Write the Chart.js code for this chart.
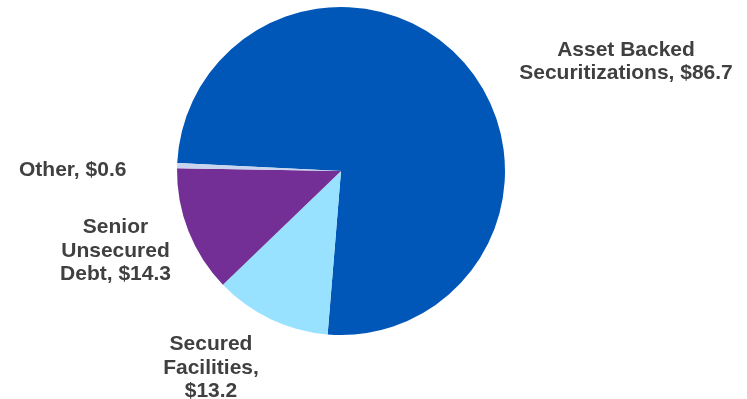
<!DOCTYPE html>
<html>
<head>
<meta charset="utf-8">
<script src="https://cdn.jsdelivr.net/npm/chart.js@4"></script>
<style>
  html, body { margin: 0; padding: 0; background: #fff; }
  #wrap { width: 747px; height: 399px; position: relative; }
</style>
</head>
<body>
<div id="wrap"><canvas id="myChart"></canvas></div>
<script>
let categories = ["Asset Backed Securitizations", "Secured Facilities", "Senior Unsecured Debt", "Other"];
let values     = [86.7, 13.2, 14.3, 0.6];
let colours    = ["#0057b8", "#99e2ff", "#732f96", "#c9d5ee"];

// label lines and where they sit (text only)
let labelLines = [
    ["Asset Backed", "Securitizations, $86.7"],
    ["Secured", "Facilities,", "$13.2"],
    ["Senior", "Unsecured", "Debt, $14.3"],
    ["Other, $0.6"]
];
let labelPos = [
    { x: 626, y: 55.5, align: "center" },
    { x: 211, y: 350, align: "center" },
    { x: 115.5, y: 233, align: "center" },
    { x: 19,  y: 176, align: "left" }
];

const labelPlugin = {
    id: "sliceLabels",
    afterDraw(chart) {
        const ctx = chart.ctx;
        ctx.save();
        ctx.font = "bold 21px 'Liberation Sans', Arial, sans-serif";
        ctx.fillStyle = "#404040";
        ctx.textBaseline = "alphabetic";
        labelLines.forEach((lines, i) => {
            const p = labelPos[i];
            ctx.textAlign = p.align;
            lines.forEach((t, j) => ctx.fillText(t, p.x, p.y + j * 23.5));
        });
        ctx.restore();
    }
};

const ctx = document.getElementById('myChart').getContext('2d');
const myChart = new Chart(ctx, {
    type: 'pie',
    data: {
        labels: categories,
        datasets: [{
            data: values,
            backgroundColor: colours,
            borderWidth: 0
        }]
    },
    options: {
        responsive: true,
        maintainAspectRatio: false,
        animation: false,
        rotation: -87.2,
        layout: { padding: { top: 7, bottom: 64, left: 100, right: 165 } },
        plugins: {
            legend: { display: false },
            tooltip: { enabled: false }
        }
    },
    plugins: [labelPlugin]
});
</script>
</body>
</html>
